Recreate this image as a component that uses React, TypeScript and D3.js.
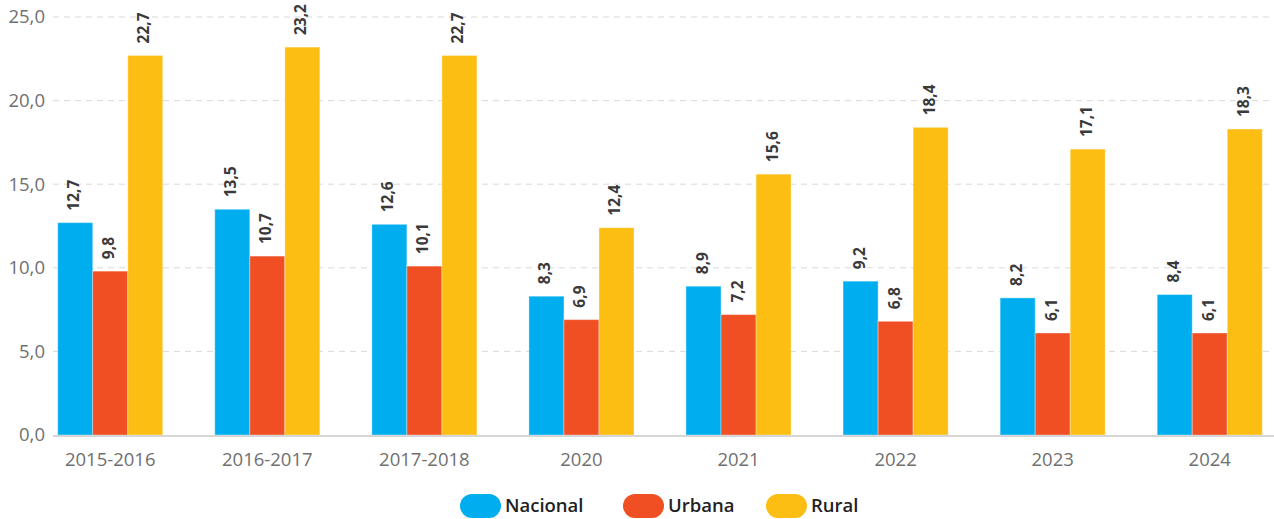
import React, { useEffect, useRef } from 'react';
import * as d3 from 'd3';

const categories = ['2015-2016', '2016-2017', '2017-2018', '2020', '2021', '2022', '2023', '2024'];
const seriesNames = ['Nacional', 'Urbana', 'Rural'];
const nacional = [12.7, 13.5, 12.6, 8.3, 8.9, 9.2, 8.2, 8.4];
const urbana = [9.8, 10.7, 10.1, 6.9, 7.2, 6.8, 6.1, 6.1];
const rural = [22.7, 23.2, 22.7, 12.4, 15.6, 18.4, 17.1, 18.3];
const yTicks = [0, 5, 10, 15, 20, 25];
const colors = ['#00aeef', '#f04e23', '#fdbe14'];

const W = 1274;
const H = 519;
const FONT = '"Open Sans", "Noto Sans", sans-serif';

const fmt = (v: number) => v.toFixed(1).replace('.', ',');

const App = () => {
  const ref = useRef<SVGSVGElement>(null);

  useEffect(() => {
    const svg = d3.select(ref.current);
    svg.selectAll('*').remove();

    const left = 53;
    const right = 1267;
    const x = d3.scaleBand().domain(categories).range([left, right]).paddingInner(0.331).paddingOuter(0.03);
    const xs = d3.scaleBand().domain(seriesNames).range([0, x.bandwidth()]);
    const y = d3.scaleLinear().domain([0, 25]).range([435, 17]);

    const values = [nacional, urbana, rural];

    // grid + y labels
    const grid = svg.append('g');
    yTicks.forEach((t) => {
      if (t > 0) {
        grid.append('line')
          .attr('x1', left).attr('x2', W)
          .attr('y1', y(t)).attr('y2', y(t))
          .attr('stroke', '#d9d9d9').attr('stroke-width', 1)
          .attr('stroke-dasharray', '6,5');
      }
      grid.append('text')
        .attr('x', 45).attr('y', y(t))
        .attr('dy', '0.35em')
        .attr('text-anchor', 'end')
        .attr('font-family', FONT).attr('font-size', 18.5)
        .attr('fill', '#707070')
        .text(fmt(t));
    });

    // bars
    const groups = svg.append('g').selectAll('g')
      .data(categories)
      .enter().append('g')
      .attr('transform', (d) => `translate(${x(d)},0)`);

    seriesNames.forEach((s, si) => {
      groups.append('rect')
        .attr('x', xs(s)!)
        .attr('y', (_d, i) => y(values[si][i]))
        .attr('width', xs.bandwidth())
        .attr('height', (_d, i) => y(0) - y(values[si][i]))
        .attr('fill', colors[si])
        .attr('stroke', 'rgba(255,255,255,0.35)')
        .attr('stroke-width', 1);

      groups.append('text')
        .attr('transform', (_d, i) =>
          `translate(${xs(s)! + xs.bandwidth() / 2 + 4},${y(values[si][i]) - 12}) rotate(-90)`)
        .attr('font-family', FONT).attr('font-size', 15.5).attr('font-weight', 700)
        .attr('fill', '#3a3a3a')
        .text((_d, i) => fmt(values[si][i]));
    });

    // axis line
    svg.append('line')
      .attr('x1', left).attr('x2', W)
      .attr('y1', y(0) + 1).attr('y2', y(0) + 1)
      .attr('stroke', '#d6d6d6').attr('stroke-width', 2);

    // x labels
    svg.append('g').selectAll('text')
      .data(categories)
      .enter().append('text')
      .attr('x', (d) => x(d)! + x.bandwidth() / 2)
      .attr('y', 466)
      .attr('text-anchor', 'middle')
      .attr('font-family', FONT).attr('font-size', 18.5)
      .attr('fill', '#707070')
      .text((d) => d);

    // legend
    const legendX = [460, 623, 766];
    const legend = svg.append('g');
    seriesNames.forEach((s, i) => {
      legend.append('rect')
        .attr('x', legendX[i]).attr('y', 494)
        .attr('width', 41).attr('height', 24).attr('rx', 12)
        .attr('fill', colors[i]);
      legend.append('text')
        .attr('x', legendX[i] + 45).attr('y', 512)
        .attr('font-family', FONT).attr('font-size', 18.5).attr('font-weight', 600)
        .attr('fill', '#222')
        .text(s);
    });
  }, []);

  return (
    <svg ref={ref} width={W} height={H} style={{ position: 'absolute', left: 0, top: 0 }}></svg>
  );
};

export default App;
